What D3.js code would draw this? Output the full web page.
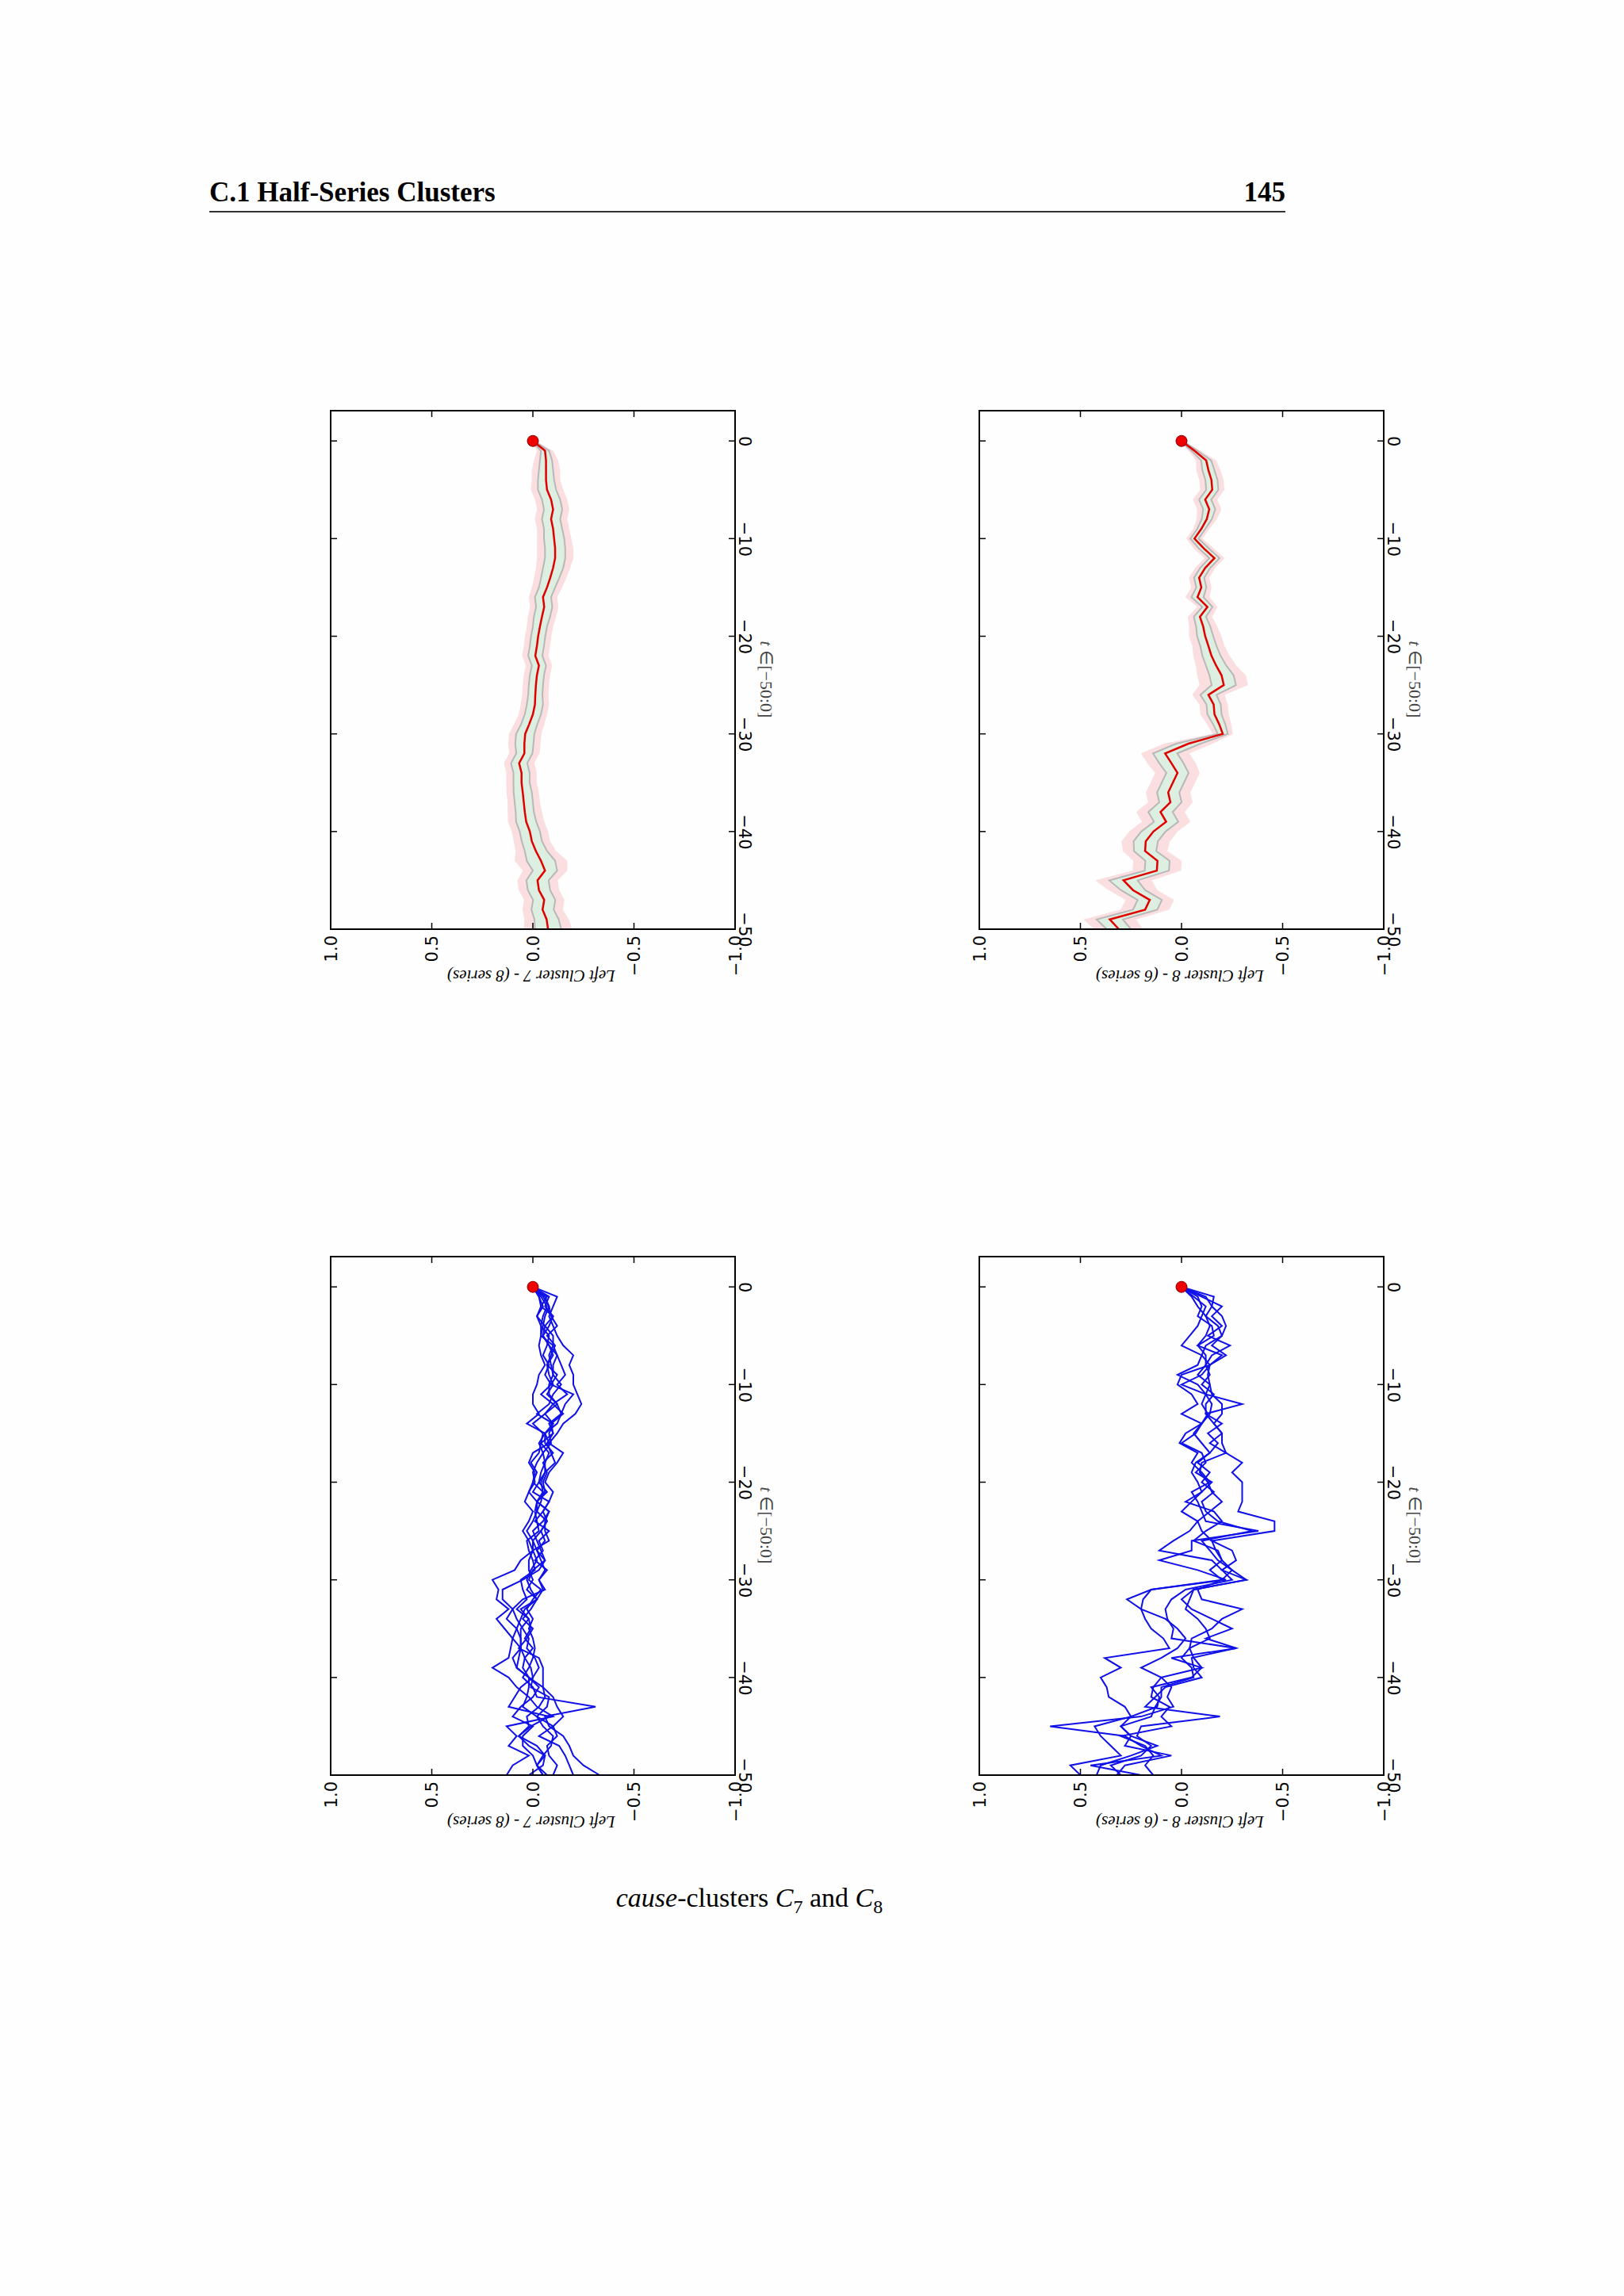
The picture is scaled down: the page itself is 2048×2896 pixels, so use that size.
<!DOCTYPE html>
<html><head><meta charset="utf-8">
<script src="https://cdn.jsdelivr.net/npm/d3@7/dist/d3.min.js"></script>
<style>body{margin:0;background:#fff}</style></head>
<body><svg id="c" width="2048" height="2896"></svg>
<script>
const tValues = d3.range(0, -51, -1);
const valueTicks = [1.0, 0.5, 0.0, -0.5, -1.0];
const tTicks = [0, -10, -20, -30, -40, -50];
const titles = ["Left Cluster 7 - (8 series)", "Left Cluster 8 - (6 series)"];

const mean7 = [0,-0.06,-0.065,-0.065,-0.065,-0.07,-0.09,-0.1,-0.09,-0.1,-0.105,-0.11,-0.11,-0.1,-0.086,-0.07,-0.05,-0.056,-0.045,-0.035,-0.026,-0.02,-0.012,-0.03,-0.02,-0.015,-0.012,-0.01,0,0.018,0.038,0.042,0.042,0.068,0.056,0.056,0.05,0.045,0.04,0.033,0.015,0.005,-0.015,-0.04,-0.06,-0.023,-0.03,-0.056,-0.048,-0.068,-0.075];
const outer7 = [0.01,0.04,0.06,0.07,0.07,0.08,0.08,0.08,0.08,0.08,0.085,0.09,0.09,0.085,0.08,0.075,0.07,0.07,0.07,0.065,0.065,0.065,0.065,0.065,0.065,0.065,0.065,0.07,0.07,0.075,0.08,0.08,0.075,0.075,0.075,0.075,0.08,0.08,0.085,0.09,0.09,0.09,0.1,0.13,0.11,0.1,0.1,0.1,0.1,0.11,0.12];
const inner7 = [0.005,0.02,0.03,0.035,0.04,0.045,0.045,0.045,0.045,0.045,0.05,0.05,0.05,0.05,0.045,0.04,0.04,0.04,0.04,0.035,0.035,0.035,0.035,0.035,0.035,0.035,0.035,0.04,0.04,0.04,0.045,0.045,0.04,0.04,0.04,0.04,0.045,0.045,0.045,0.05,0.05,0.05,0.055,0.07,0.06,0.055,0.055,0.055,0.055,0.06,0.065];
const mean8 = [0,-0.064,-0.122,-0.133,-0.148,-0.152,-0.117,-0.137,-0.125,-0.098,-0.064,-0.11,-0.163,-0.117,-0.087,-0.098,-0.079,-0.128,-0.091,-0.107,-0.117,-0.133,-0.148,-0.171,-0.198,-0.209,-0.133,-0.159,-0.163,-0.186,-0.204,-0.034,0.081,0.05,0.02,0.043,0.066,0.055,0.104,0.076,0.139,0.177,0.18,0.119,0.122,0.287,0.24,0.157,0.18,0.355,0.31];
const outer8 = [0.01,0.03,0.05,0.06,0.06,0.06,0.06,0.06,0.05,0.04,0.04,0.05,0.05,0.05,0.05,0.05,0.06,0.05,0.06,0.07,0.08,0.08,0.09,0.1,0.12,0.12,0.08,0.07,0.07,0.06,0.05,0.12,0.12,0.12,0.11,0.11,0.11,0.11,0.12,0.12,0.12,0.12,0.11,0.12,0.12,0.14,0.12,0.12,0.12,0.13,0.12];
const inner8 = [0.005,0.015,0.025,0.03,0.03,0.03,0.03,0.03,0.025,0.02,0.02,0.025,0.025,0.025,0.025,0.025,0.03,0.025,0.03,0.035,0.04,0.04,0.045,0.05,0.06,0.06,0.04,0.035,0.035,0.03,0.025,0.06,0.06,0.06,0.055,0.055,0.055,0.055,0.06,0.06,0.06,0.06,0.055,0.06,0.06,0.07,0.06,0.06,0.06,0.065,0.06];

const series7 = [
[0,-0.03,-0.05,-0.02,-0.06,-0.05,-0.08,-0.1,-0.07,-0.12,-0.09,-0.2,-0.16,-0.14,-0.12,-0.06,-0.03,-0.05,-0.02,0.0,-0.01,0.02,0.04,0.0,0.02,0.05,0.02,0.0,0.06,0.09,0.2,0.17,0.18,0.12,0.18,0.14,0.1,0.11,0.12,0.2,0.12,0.08,0.02,-0.02,-0.1,0.13,0.08,0.12,0.02,0.1,0.13],
[0,-0.12,-0.1,-0.08,-0.1,-0.12,-0.15,-0.2,-0.18,-0.2,-0.2,-0.22,-0.24,-0.21,-0.15,-0.12,-0.08,-0.15,-0.12,-0.08,-0.06,-0.1,-0.08,-0.05,-0.07,-0.04,-0.06,-0.02,-0.06,0.0,0.02,-0.04,0.0,0.03,0.0,0.02,0.0,-0.01,0.0,0.02,0.05,0.0,-0.02,-0.31,-0.06,-0.08,-0.15,-0.18,-0.2,-0.25,-0.33],
[0,-0.04,-0.07,-0.05,-0.04,-0.08,-0.07,-0.05,-0.08,-0.06,-0.09,-0.04,-0.1,-0.06,0.0,-0.05,-0.04,-0.03,0.01,-0.02,0.0,0.02,-0.02,-0.08,-0.05,0.0,-0.02,-0.04,-0.06,-0.03,0.05,0.15,0.15,0.1,0.13,0.08,0.06,0.06,0.1,0.08,0.02,-0.05,-0.06,-0.03,0.03,0.02,0.07,-0.02,-0.06,-0.05,0.02],
[0,-0.05,-0.08,-0.09,-0.12,-0.07,-0.11,-0.09,-0.07,-0.08,-0.1,-0.07,-0.12,-0.14,-0.08,-0.1,-0.04,-0.08,-0.06,-0.04,-0.03,0.0,-0.08,-0.05,-0.01,-0.08,-0.03,-0.05,-0.01,-0.07,-0.03,-0.05,-0.02,0.01,0.05,0.0,0.03,0.07,-0.03,-0.05,-0.05,-0.05,-0.1,-0.12,-0.15,-0.1,-0.12,-0.07,-0.08,-0.12,-0.1],
[0,-0.07,-0.04,-0.1,-0.06,-0.1,-0.1,-0.12,-0.14,-0.16,-0.12,-0.17,-0.1,-0.15,-0.09,-0.1,-0.07,-0.09,-0.11,-0.06,-0.03,-0.07,-0.02,-0.02,-0.07,-0.04,0.0,-0.02,-0.04,-0.06,-0.03,-0.06,0.05,0.1,0.08,0.05,0.02,0.03,-0.01,-0.03,0.0,0.01,-0.08,-0.07,-0.02,-0.1,-0.03,-0.13,-0.16,-0.18,-0.2],
[0,-0.06,-0.08,-0.06,-0.05,-0.04,-0.1,-0.08,-0.09,-0.1,-0.08,-0.08,-0.12,-0.06,-0.1,-0.08,-0.09,-0.05,-0.06,-0.06,-0.04,-0.05,-0.04,-0.02,0.0,0.03,0.0,0.0,0.02,0.02,0.0,0.03,-0.02,0.06,0.02,0.06,0.06,0.06,0.04,0.05,0.02,0.02,0.03,0.05,-0.02,-0.05,-0.1,-0.09,-0.05,-0.02,-0.05],
[0,-0.08,-0.06,-0.1,-0.08,-0.05,-0.08,-0.12,-0.1,-0.1,-0.14,-0.1,-0.08,-0.02,-0.1,-0.06,-0.06,-0.1,-0.05,-0.07,-0.05,-0.06,-0.02,-0.08,-0.06,-0.06,-0.08,0.0,-0.02,0.01,0.03,0.01,-0.02,0.04,0.06,0.08,0.1,0.06,0.07,0.08,0.02,-0.03,0.0,0.06,0.1,0.0,0.05,0.05,0.0,-0.02,-0.05],
[0,-0.03,-0.04,-0.02,-0.04,-0.04,-0.03,-0.04,-0.06,-0.03,-0.02,0.0,0.0,-0.03,0.03,-0.06,-0.08,0.0,0.02,-0.01,0.0,-0.05,-0.02,-0.01,-0.02,-0.03,0.03,0.02,0.0,-0.01,0.06,0.05,0.03,0.08,0.02,0.01,0.04,0.0,0.04,0.01,0.0,0.06,0.09,0.12,-0.08,0.01,0.07,0.02,-0.06,-0.02,-0.07]
];
const series8 = [
[0,-0.16,-0.15,-0.2,-0.22,-0.2,-0.15,-0.22,-0.14,-0.1,0.0,-0.12,-0.3,-0.12,-0.16,-0.2,-0.2,-0.22,-0.3,-0.25,-0.3,-0.3,-0.3,-0.28,-0.46,-0.46,-0.15,-0.25,-0.27,-0.2,-0.32,-0.06,0.0,-0.05,-0.15,-0.25,-0.12,-0.27,-0.05,-0.06,-0.1,0.08,0.13,0.18,-0.19,0.2,0.22,0.15,0.2,0.35,0.3],
[0,-0.08,-0.1,-0.08,-0.15,-0.16,-0.08,-0.2,-0.14,0.0,0.02,-0.05,-0.08,0.0,-0.1,-0.02,0.01,-0.08,-0.05,-0.1,-0.14,-0.05,-0.08,-0.1,-0.12,-0.38,-0.05,-0.05,0.11,-0.08,-0.22,0.15,0.19,0.2,0.18,0.15,0.09,0.06,0.38,0.3,0.4,0.37,0.36,0.28,0.25,0.43,0.4,0.35,0.3,0.55,0.5],
[0,-0.05,-0.08,-0.12,-0.14,-0.12,-0.08,-0.12,-0.12,-0.14,-0.1,-0.16,-0.12,-0.12,-0.2,-0.13,-0.18,-0.14,-0.08,-0.14,-0.1,-0.16,-0.1,-0.12,-0.18,-0.35,-0.1,-0.14,-0.18,-0.25,-0.2,-0.08,-0.1,-0.3,-0.2,-0.15,-0.05,-0.04,-0.06,-0.1,-0.05,0.15,0.11,0.12,0.25,0.3,0.25,0.28,0.05,0.28,0.32],
[0,-0.1,-0.2,-0.15,-0.2,-0.13,-0.24,-0.15,-0.12,-0.08,-0.14,-0.12,-0.1,-0.13,-0.1,-0.06,-0.1,-0.14,-0.07,-0.05,-0.08,-0.1,-0.02,-0.16,-0.2,-0.12,-0.06,-0.18,-0.2,-0.14,-0.2,0.15,0.27,0.2,0.08,0.02,-0.02,0.02,0.1,0.2,0.1,0.14,0.15,0.06,0.1,0.05,0.3,0.18,0.14,0.18,0.14],
[0,-0.06,-0.12,-0.1,-0.08,-0.04,0.0,-0.1,-0.08,0.02,-0.08,-0.12,-0.15,-0.14,-0.1,-0.07,0.0,-0.1,-0.12,-0.07,-0.15,-0.1,-0.05,0.0,-0.08,-0.04,0.04,0.11,-0.15,-0.2,-0.25,-0.02,0.05,0.08,0.07,0.04,0.05,-0.27,0.05,-0.1,0.1,0.05,0.07,0.04,0.2,0.65,0.28,0.2,0.1,0.45,0.2],
[0,-0.12,-0.15,-0.12,-0.18,-0.2,-0.12,-0.1,-0.14,-0.13,-0.14,-0.15,-0.2,-0.2,-0.16,-0.2,-0.14,-0.22,-0.1,-0.09,-0.13,-0.15,-0.2,-0.14,-0.08,-0.1,-0.15,-0.17,-0.2,-0.25,-0.32,-0.06,-0.04,-0.02,-0.08,-0.12,-0.14,-0.04,0.0,-0.05,-0.06,0.1,0.1,0.13,0.15,0.3,0.25,0.12,0.25,0.4,0.42]
];

const svg = d3.select("#c");
svg.append("rect").attr("width",2048).attr("height",2896).attr("fill","#fefefe");
svg.append("text").attr("x",264).attr("y",254).attr("font-family","Liberation Serif, serif").attr("font-weight","bold").attr("font-size",35).text("C.1 Half-Series Clusters");
svg.append("text").attr("x",1621).attr("y",254).attr("text-anchor","end").attr("font-family","Liberation Serif, serif").attr("font-weight","bold").attr("font-size",35).text("145");
svg.append("line").attr("x1",264).attr("x2",1621).attr("y1",267).attr("y2",267).attr("stroke","#333").attr("stroke-width",2);
const cap = svg.append("text").attr("x",945).attr("y",2405).attr("text-anchor","middle").attr("font-family","Liberation Serif, serif").attr("font-size",34);
cap.append("tspan").attr("font-style","italic").text("cause");
cap.append("tspan").text("-clusters ");
cap.append("tspan").attr("font-style","italic").text("C");
cap.append("tspan").attr("font-size",24).attr("dy",8).text("7");
cap.append("tspan").attr("dy",-8).text(" and ");
cap.append("tspan").attr("font-style","italic").text("C");
cap.append("tspan").attr("font-size",24).attr("dy",8).text("8");

function panel(L, R, T, B, title, draw) {
  const x = d3.scaleLinear().domain([1, -1]).range([L, R]);
  const y = d3.scaleLinear().domain([3.1, -50]).range([T, B]);
  const g = svg.append("g");
  draw(g, x, y);
  g.append("rect").attr("x",L).attr("y",T).attr("width",R-L).attr("height",B-T).attr("fill","none").attr("stroke","#000").attr("stroke-width",2);
  const ax = d3.axisBottom(x).tickValues(valueTicks).tickSize(0).tickFormat(d => d3.format(".1f")(d).replace("-", "\u2212"));
  const gb = g.append("g").attr("transform",`translate(0,${B})`).call(ax);
  gb.select(".domain").remove();
  gb.selectAll("text").attr("transform","rotate(-90)").attr("x",-8).attr("y",0).attr("dy","0.35em").attr("text-anchor","end").attr("font-size",21).attr("font-family","DejaVu Sans, sans-serif");
  valueTicks.forEach(v => {
    g.append("line").attr("x1",x(v)).attr("x2",x(v)).attr("y1",B).attr("y2",B-8).attr("stroke","#000").attr("stroke-width",1.5);
    g.append("line").attr("x1",x(v)).attr("x2",x(v)).attr("y1",T).attr("y2",T+8).attr("stroke","#000").attr("stroke-width",1.5);
  });
  const ay = d3.axisRight(y).tickValues(tTicks).tickSize(0).tickFormat(d => String(d).replace("-", "\u2212"));
  const gr = g.append("g").attr("transform",`translate(${R},0)`).call(ay);
  gr.select(".domain").remove();
  gr.selectAll("text").attr("transform","rotate(90)").attr("x",0).attr("y",-12).attr("dy","0.35em").attr("text-anchor","middle").attr("font-size",21).attr("font-family","DejaVu Sans, sans-serif");
  tTicks.forEach(t => {
    g.append("line").attr("x1",R).attr("x2",R-8).attr("y1",y(t)).attr("y2",y(t)).attr("stroke","#000").attr("stroke-width",1.5);
    g.append("line").attr("x1",L).attr("x2",L+8).attr("y1",y(t)).attr("y2",y(t)).attr("stroke","#000").attr("stroke-width",1.5);
  });
  const cy = (T + B) / 2 + 12;
  g.append("text").attr("transform",`translate(${R+32},${cy}) rotate(90)`).attr("text-anchor","middle").attr("font-family","Liberation Serif, serif").attr("font-size",22).attr("fill","#444").html('<tspan font-style="italic">t</tspan> \u2208[\u221250:0]');
  g.append("text").attr("transform",`translate(${(L+R)/2 - 2},${B+52}) rotate(180)`).attr("text-anchor","middle").attr("font-family","Liberation Serif, serif").attr("font-style","italic").attr("font-size",21).text(title);
  g.append("circle").attr("cx",x(0)).attr("cy",y(0)).attr("r",7).attr("fill","#e00").attr("stroke","#800").attr("stroke-width",1);
}

function meanPanel(mean, outer, inner) {
  return (g, x, y) => {
    const idx = d3.range(tValues.length);
    const band = (hw) => d3.area().x0(i => x(mean[i] + hw[i])).x1(i => x(mean[i] - hw[i])).y(i => y(tValues[i]));
    g.append("path").attr("d", band(outer)(idx)).attr("fill","#fadadd").attr("opacity",0.9);
    g.append("path").attr("d", band(inner)(idx)).attr("fill","#dcefe0").attr("stroke","#b8b8b8").attr("stroke-width",2);
    g.append("path").attr("d", d3.line().x(i => x(mean[i])).y(i => y(tValues[i]))(idx)).attr("fill","none").attr("stroke","#e00000").attr("stroke-width",2.5);
  };
}
function seriesPanel(list) {
  return (g, x, y) => {
    list.forEach(s => g.append("path").attr("d", d3.line().x(d => x(d)).y((d, i) => y(tValues[i]))(s)).attr("fill","none").attr("stroke","#1010e8").attr("stroke-width",2));
  };
}

panel(417, 927, 518, 1172, titles[0], meanPanel(mean7, outer7, inner7));
panel(1235, 1745, 518, 1172, titles[1], meanPanel(mean8, outer8, inner8));
panel(417, 927, 1585, 2239, titles[0], seriesPanel(series7));
panel(1235, 1745, 1585, 2239, titles[1], seriesPanel(series8));
</script></body></html>
